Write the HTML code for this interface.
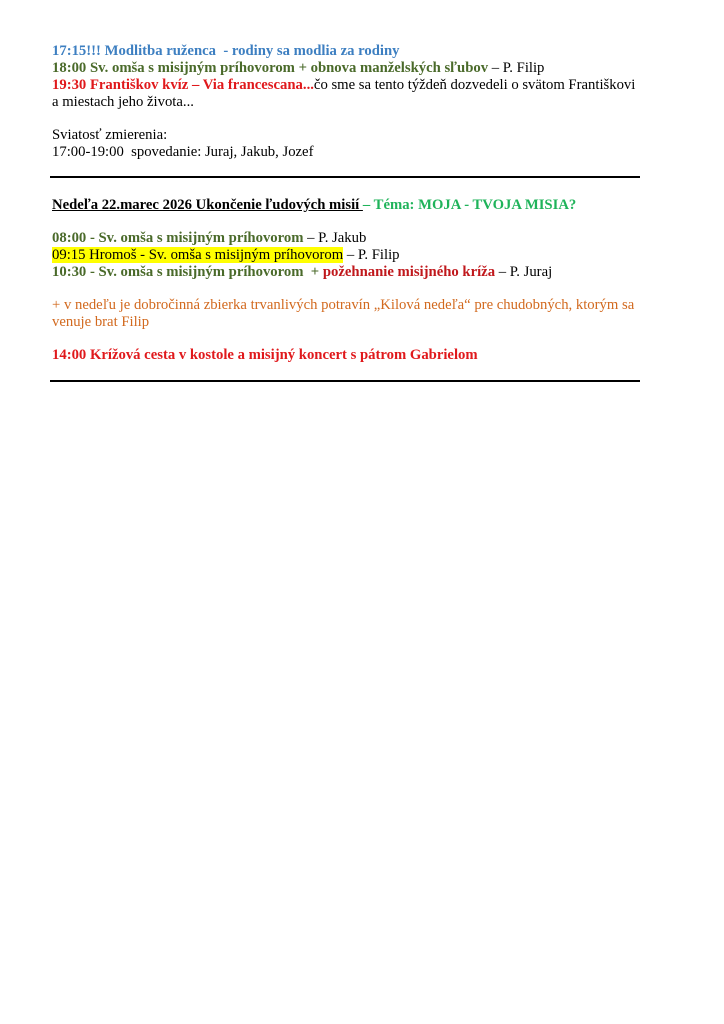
<!DOCTYPE html>
<html><head><meta charset="utf-8"><style>
body{margin:0;width:724px;height:1024px;background:#fff;position:relative;font-family:"Liberation Serif",serif;font-size:14.7px;color:#000}
.l{position:absolute;left:52px;line-height:17px;white-space:nowrap;margin-top:2px}
b{font-weight:bold}
.bl{color:#3d7fc1}.gr{color:#4a6a2a}.rd{color:#e0191c}.dr{color:#c0181c}.tg{color:#1fb35a}.or{color:#d2691e}
.hr{position:absolute;left:50px;width:590px;height:2px;background:#000}
</style></head><body>
<div class="l" style="top:41px"><b class="bl">17:15!!! Modlitba ruženca&nbsp; - rodiny sa modlia za rodiny</b></div>
<div class="l" style="top:58px"><b class="gr">18:00 Sv. omša s misijným príhovorom + obnova manželských sľubov</b> – P. Filip</div>
<div class="l" style="top:75px"><b class="rd">19:30 Františkov kvíz – Via francescana...</b>čo sme sa tento týždeň dozvedeli o svätom Františkovi</div>
<div class="l" style="top:92px">a miestach jeho života...</div>
<div class="l" style="top:125px">Sviatosť zmierenia:</div>
<div class="l" style="top:142px">17:00-19:00&nbsp; spovedanie: Juraj, Jakub, Jozef</div>
<div class="hr" style="top:176px"></div>
<div class="l" style="top:195px"><b style="text-decoration:underline">Nedeľa 22.marec 2026 Ukončenie ľudových misií </b><b class="tg">– Téma: MOJA - TVOJA MISIA?</b></div>
<div class="l" style="top:228px"><b class="gr">08:00 - Sv. omša s misijným príhovorom</b> – P. Jakub</div>
<div class="l" style="top:245px"><span style="background:#ffff00">09:15 Hromoš - Sv. omša s misijným príhovorom</span> – P. Filip</div>
<div class="l" style="top:262px"><b class="gr">10:30 - Sv. omša s misijným príhovorom&nbsp; + </b><b class="dr">požehnanie misijného kríža</b> – P. Juraj</div>
<div class="l or" style="top:295px">+ v nedeľu je dobročinná zbierka trvanlivých potravín „Kilová nedeľa“ pre chudobných, ktorým sa</div>
<div class="l or" style="top:312px">venuje brat Filip</div>
<div class="l" style="top:345px"><b class="rd">14:00 Krížová cesta v kostole a misijný koncert s pátrom Gabrielom</b></div>
<div class="hr" style="top:380px"></div>
</body></html>
